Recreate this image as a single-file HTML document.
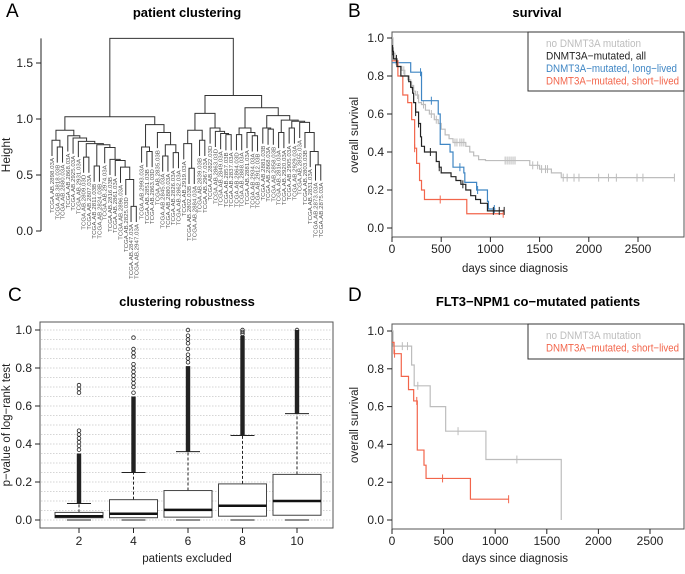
<!DOCTYPE html>
<html><head><meta charset="utf-8"><style>
body{margin:0;background:#fff}
svg text{font-family:"Liberation Sans",sans-serif}
</style></head><body>
<svg id="s" width="685" height="569" xmlns="http://www.w3.org/2000/svg">
<g>
<text x="6" y="17" font-size="19">A</text>
<text x="187" y="17" font-size="13" font-weight="bold" text-anchor="middle">patient clustering</text>
<text transform="translate(10,155) rotate(-90)" font-size="12" text-anchor="middle" fill="#222">Height</text>
</g>
<g>
<text x="348" y="17" font-size="19">B</text>
<text x="537" y="17" font-size="13" font-weight="bold" text-anchor="middle">survival</text>
<text transform="translate(358,135) rotate(-90)" font-size="11.5" text-anchor="middle" fill="#222">overall survival</text>
<text x="515" y="272" font-size="11.5" text-anchor="middle" fill="#222">days since diagnosis</text>
</g>
<g>
<text x="8" y="301" font-size="19">C</text>
<text x="187" y="306" font-size="13" font-weight="bold" text-anchor="middle">clustering robustness</text>
<text transform="translate(10,425) rotate(-90)" font-size="11.5" text-anchor="middle" fill="#222">p−value of log−rank test</text>
<text x="187" y="562" font-size="11.5" text-anchor="middle" fill="#222">patients excluded</text>
</g>
<g>
<text x="348" y="301" font-size="19">D</text>
<text x="538" y="306" font-size="13" font-weight="bold" text-anchor="middle">FLT3−NPM1 co−mutated patients</text>
<text transform="translate(358,425) rotate(-90)" font-size="11.5" text-anchor="middle" fill="#222">overall survival</text>
<text x="515" y="562" font-size="11.5" text-anchor="middle" fill="#222">days since diagnosis</text>
</g>
</svg>
<script>
// ---------- Data ----------
const dendroTree=[1.72,
 [1.02,
  [0.90,
   [0.81,"2898.03A",[0.75,"3818.03B","2880.03A"]],
   [0.85,"2868.03A",[0.83,"2925.03A",[0.80,"2931.03A",[0.78,[0.66,"2809.03D","2807.03A"],[0.77,[0.58,"2811.03B","2824.03B"],[0.745,"2974.03A",[0.64,"2816.03B",[0.63,"2861.03A",[0.57,"2896.03A",[0.46,"2825.03D",[0.22,"2847.03A","2947.03A"]]]]]]]]]]]],
  [0.95,[0.75,"2993.03A",[0.71,"2851.03B","2863.03D"]],[0.88,"2835.03B",[0.77,[0.67,"2845.03A","2880.03A"],[0.70,"2826.03A","2862.03A"]]]]],
 [1.21,
  [1.05,[0.90,[0.78,"2919.03A",[0.56,"2802.03B","2884.03A"]],[0.81,"2839.03B","2967.03A"]],
   [0.92,"2822.03D",[0.89,"2863.03D",[0.87,"2849.03A",[0.86,"2857.03B","2837.03A"]]]]],
  [1.10,[0.92,[0.86,"2864.03D","2888.03A"],[0.88,"2881.03A",[0.85,"2934.03A","2912.03B"]]],
   [1.03,[0.92,"2881.03B",[0.91,"2868.03A","2858.03B"]],
    [0.99,[0.88,"2816.03A","2920.03A"],[0.98,[0.92,"2905.03A","2929.03A"],[0.97,"2855.03A",[0.88,"2803.03B",[0.71,"2831.03A",[0.59,"2873.03A","2875.03A"]]]]]]]]]];
const aTicks=[0,0.5,1.0,1.5];

const bXTicks=[0,500,1000,1500,2000,2500];
const bYTicks=[0,0.2,0.4,0.6,0.8,1.0];
const grayBTimes=[0,10,30,60,100,130,160,190,220,240,270,300,340,380,430,470,500,540,580,620,750,790,830,880,950,1400,1500,1620,1720,2870];
const grayBSurv=[1.0,0.92,0.88,0.85,0.83,0.80,0.78,0.75,0.72,0.70,0.66,0.65,0.62,0.60,0.57,0.55,0.52,0.49,0.47,0.45,0.43,0.40,0.38,0.36,0.355,0.33,0.31,0.29,0.265,0.265];
const grayBCens=[40,120,200,260,320,400,450,640,660,690,710,730,1150,1170,1190,1210,1230,1250,1430,1480,1520,1560,1580,1740,1780,1850,1900,2100,2200,2280,2490,2550,2870];
const blackBTimes=[0,5,15,50,90,170,190,210,220,240,270,290,300,330,450,480,500,600,650,700,750,800,850,900,970,1140];
const blackBSurv=[0.96,0.93,0.89,0.85,0.80,0.77,0.74,0.71,0.66,0.61,0.55,0.48,0.43,0.40,0.35,0.32,0.29,0.27,0.25,0.23,0.20,0.17,0.15,0.13,0.09,0.09];
const blackBCens=[10,45,240,270,390,480,720,1030,1090,1140];
const blueBTimes=[0,190,300,470,490,590,620,730,740,860,970,980,1050];
const blueBSurv=[0.87,0.82,0.67,0.60,0.44,0.40,0.32,0.29,0.24,0.20,0.14,0.10,0.10];
const blueBCens=[290,400,690,870,1040];
const redBTimes=[0,60,110,160,200,230,250,280,300,330,760,1130];
const redBSurv=[0.88,0.80,0.70,0.66,0.57,0.42,0.34,0.25,0.20,0.15,0.075,0.075];
const redBCens=[230,490,1130];
const bLegend=["no DNMT3A mutation","DNMT3A−mutated, all","DNMT3A−mutated, long−lived","DNMT3A−mutated, short−lived"];

const cCats=["2","4","6","8","10"];
const cQ1=[0.012,0.012,0.015,0.02,0.025];
const cMed=[0.02,0.033,0.053,0.075,0.1];
const cQ3=[0.04,0.107,0.155,0.19,0.24];
const cWhiskHi=[0.087,0.25,0.36,0.445,0.56];
const cDenseTop=[0.35,0.65,0.81,0.97,1.0];
const cSparseOut=[[0.37,0.39,0.41,0.43,0.45,0.47,0.67,0.69,0.71],[0.67,0.70,0.72,0.74,0.76,0.78,0.80,0.82,0.86,0.88,0.90,0.96],[0.83,0.85,0.87,0.90,0.93,0.95,0.97,1.0],[0.98,0.99,1.0],[1.0]];
const cYTicks=[0,0.2,0.4,0.6,0.8,1.0];

const dXTicks=[0,500,1000,1500,2000,2500];
const dYTicks=[0,0.2,0.4,0.6,0.8,1.0];
const grayDTimes=[0,10,190,215,370,520,910,1640];
const grayDSurv=[1.0,0.92,0.82,0.71,0.60,0.47,0.32,0.0];
const grayDCens=[100,150,250,640,1210];
const redDTimes=[0,20,90,160,210,245,310,330,760,1130];
const redDSurv=[0.94,0.88,0.76,0.69,0.63,0.37,0.29,0.22,0.11,0.11];
const redDCens=[25,240,490,1130];
const dLegend=["no DNMT3A mutation","DNMT3A−mutated, short−lived"];

// ---------- Drawing ----------
const svg=document.getElementById('s');
const NS="http://www.w3.org/2000/svg";
function mk(tag,attrs,parent){const e=document.createElementNS(NS,tag);for(const k in attrs)e.setAttribute(k,attrs[k]);(parent||svg).appendChild(e);return e;}
function txt(x,y,s,size,anchor,fill){const t=mk('text',{x:x,y:y,'font-size':size,'text-anchor':anchor||'middle',fill:fill||'#222'});t.textContent=s;return t;}

const ay=h=>231-h*(231-119);
let leafIdx=0;const leafX=i=>52+i*5.27;
const dendColor="#333";
function layout(n){
 if(typeof n==='string'){return {x:leafX(leafIdx++),leaf:n};}
 const l=layout(n[1]),r=layout(n[2]);return {x:(l.x+r.x)/2,h:n[0],l:l,r:r};
}
const root=layout(dendroTree);
function drawNode(n){
 const kids=[n.l,n.r];
 const p=mk('path',{d:`M${n.l.x},${n.l.leaf?ay(n.h-0.14):ay(n.l.h)}V${ay(n.h)}H${n.r.x}V${n.r.leaf?ay(n.h-0.14):ay(n.r.h)}`,fill:'none',stroke:dendColor,'stroke-width':1});
 
 
 kids.forEach(k=>{
  if(k.leaf){const y=ay(n.h-0.14)+2;const t=mk('text',{x:0,y:0,'font-size':5.6,'text-anchor':'end',fill:'#555',textLength:55,lengthAdjust:'spacingAndGlyphs',transform:`translate(${k.x+2},${y}) rotate(-90)`});t.textContent='TCGA.AB.'+k.leaf;
   
   }
  else drawNode(k);
 });
}
drawNode(root);
const aAxis=mk('path',{d:`M41,${ay(1.72)}V${ay(0)}`,stroke:'#222',fill:'none'});


aTicks.forEach(v=>{mk('line',{x1:36,x2:41,y1:ay(v),y2:ay(v),stroke:'#222'});const t=txt(33,ay(v)+4,v.toFixed(1),12,'end');
 
 });

function survAt(times,surv,t){let s=surv[0];for(let i=0;i<times.length;i++){if(times[i]<=t)s=surv[i];}return s;}
function drawKM(xs,ys,times,surv,cens,color,name){
 let d=`M${xs(times[0])},${ys(surv[0])}`;
 for(let i=1;i<times.length;i++){d+=`H${xs(times[i])}V${ys(surv[i])}`;}
 const p=mk('path',{d:d,fill:'none',stroke:color,'stroke-width':1.2});
 
 
 cens.forEach(c=>{const y=ys(survAt(times,surv,c));const l=mk('line',{x1:xs(c),x2:xs(c),y1:y-4,y2:y+4,stroke:color,'stroke-width':1});
  
  });
}
function frame(x0,y0,x1,y1,name){const r=mk('rect',{x:x0,y:y0,width:x1-x0,height:y1-y0,fill:'none',stroke:'#555','stroke-width':1});
 
 }
function axes(xs,ys,xt,yt,left,bottom,suf){
 xt.forEach(v=>{mk('line',{x1:xs(v),x2:xs(v),y1:bottom,y2:bottom+5,stroke:'#222'});const t=txt(xs(v),bottom+16,String(v),12);
  
  });
 yt.forEach(v=>{mk('line',{x1:left-5,x2:left,y1:ys(v),y2:ys(v),stroke:'#222'});const t=txt(left-8,ys(v)+4,v.toFixed(1),12,'end');
  
  });
}
const cols={gray:'#bdbdbd',black:'#222',blue:'#3f86c4',red:'#f2654b'};
const legendLens=[95,100,131,133];
const legendLensD=[95,133];

const bx=d=>392+d*(638-392)/2500, by=s=>228-s*190;
frame(392,32,684,237,'plot-area-b');
axes(bx,by,bXTicks,bYTicks,392,237,'b');
drawKM(bx,by,grayBTimes,grayBSurv,grayBCens,cols.gray,'curve-no-dnmt3a');
drawKM(bx,by,blueBTimes,blueBSurv,blueBCens,cols.blue,'curve-long-lived');
drawKM(bx,by,redBTimes,redBSurv,redBCens,cols.red,'curve-short-lived');
drawKM(bx,by,blackBTimes,blackBSurv,blackBCens,cols.black,'curve-mutated-all');
const lbB=mk('rect',{x:528,y:32,width:156,height:59,fill:'#fff',stroke:'#333'});


[cols.gray,cols.black,cols.blue,cols.red].forEach((c,i)=>{const t=txt(546,47+i*12.5,bLegend[i],11,'start',c);
 t.setAttribute('textLength',legendLens[i]);t.setAttribute('lengthAdjust','spacingAndGlyphs');
 
 });

const cx=i=>79+i*54.5, cy=v=>520-v*190;
const cg=mk('rect',{x:40,y:322,width:293,height:206,fill:'#fff',stroke:'#555'});


for(let k=0;k<=20;k++){const l=mk('line',{x1:41,x2:332,y1:cy(k*0.05),y2:cy(k*0.05),stroke:'#c8c8c8','stroke-dasharray':'1.5,1.5','stroke-width':0.8});
 
 }
cCats.forEach((c,i)=>{
 const x=cx(i),w=24;
 mk('line',{x1:x,x2:x,y1:cy(cQ3[i]),y2:cy(cWhiskHi[i]),stroke:'#222','stroke-dasharray':'3,2'});
 mk('line',{x1:x-12,x2:x+12,y1:cy(cWhiskHi[i]),y2:cy(cWhiskHi[i]),stroke:'#222'});
 mk('line',{x1:x-12,x2:x+12,y1:cy(0),y2:cy(0),stroke:'#222'});
 const b=mk('rect',{x:x-w,y:cy(cQ3[i]),width:2*w,height:cy(cQ1[i])-cy(cQ3[i]),fill:'#fff',stroke:'#444'});
 
 
 mk('line',{x1:x-w,x2:x+w,y1:cy(cMed[i]),y2:cy(cMed[i]),stroke:'#111','stroke-width':2.5});
 const dense=mk('rect',{x:x-2.2,y:cy(cDenseTop[i]),width:4.4,height:cy(cWhiskHi[i])-cy(cDenseTop[i]),fill:'#222'});
 
 
 cSparseOut[i].forEach(v=>{const o=mk('circle',{cx:x,cy:cy(v),r:1.8,fill:'none',stroke:'#222','stroke-width':0.8});
  
  });
 mk('line',{x1:x,x2:x,y1:528,y2:533,stroke:'#222'});
 const t=txt(x,545,c,12);
 
 
});
cYTicks.forEach(v=>{mk('line',{x1:35,x2:40,y1:cy(v),y2:cy(v),stroke:'#222'});const t=txt(32,cy(v)+4,v.toFixed(1),12,'end');
 
 });

const dx=d=>392+d*(650-392)/2500, dy=s=>520-s*189;
frame(392,324,684,529,'plot-area-d');
axes(dx,dy,dXTicks,dYTicks,392,529,'d');
drawKM(dx,dy,grayDTimes,grayDSurv,grayDCens,cols.gray,'curve-no-dnmt3a-d');
drawKM(dx,dy,redDTimes,redDSurv,redDCens,cols.red,'curve-short-lived-d');
const lbD=mk('rect',{x:528,y:324,width:156,height:35,fill:'#fff',stroke:'#333'});


[cols.gray,cols.red].forEach((c,i)=>{const t=txt(546,339+i*12.5,dLegend[i],11,'start',c);
 t.setAttribute('textLength',legendLensD[i]);t.setAttribute('lengthAdjust','spacingAndGlyphs');
 
 });
</script>
</body></html>
